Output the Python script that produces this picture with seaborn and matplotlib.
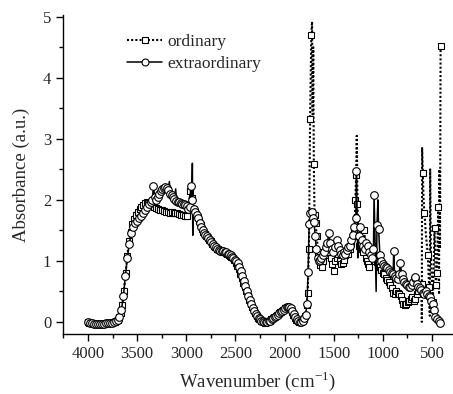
import matplotlib
matplotlib.use("Agg")
import matplotlib.pyplot as plt
import seaborn as sns
from matplotlib.ticker import MultipleLocator
from matplotlib.lines import Line2D

# ordinary spectrum (squares, dotted)
wn_o = [4000, 3985, 3970, 3955, 3940, 3925, 3910, 3895, 3880, 3865, 3850, 3835, 3820, 3805, 3790,
        3775, 3760, 3745, 3730, 3715, 3700, 3685, 3668, 3652, 3635, 3618, 3600, 3582, 3565, 3548,
        3530, 3512, 3494, 3476, 3458, 3440, 3422, 3404, 3386, 3368, 3350, 3330, 3310, 3290, 3270,
        3250, 3230, 3210, 3190, 3170, 3150, 3130, 3110, 3090, 3070, 3050, 3030, 3010, 2990, 2975,
        2960, 2945, 2930, 2915, 2900, 2885, 2870, 2855, 2840, 2825, 2810, 2795, 2780, 2765, 2750,
        2735, 2720, 2705, 2690, 2675, 2660, 2645, 2630, 2615, 2600, 2585, 2570, 2555, 2540, 2525,
        2510, 2495, 2480, 2465, 2450, 2435, 2420, 2405, 2390, 2375, 2360, 2345, 2330, 2315, 2300,
        2285, 2270, 2255, 2240, 2225, 2210, 2195, 2180, 2165, 2150, 2135, 2120, 2105, 2090, 2075,
        2060, 2045, 2030, 2015, 2000, 1985, 1970, 1955, 1940, 1925, 1910, 1895, 1880, 1865, 1850,
        1835, 1820, 1805, 1790, 1775, 1765, 1752, 1740, 1728, 1720, 1714, 1708, 1702, 1695, 1685,
        1672, 1660, 1648, 1635, 1620, 1605, 1590, 1575, 1560, 1545, 1530, 1515, 1500, 1485, 1470,
        1455, 1440, 1425, 1410, 1395, 1380, 1365, 1350, 1335, 1320, 1305, 1290, 1280, 1272, 1265,
        1258, 1250, 1240, 1228, 1215, 1200, 1190, 1180, 1170, 1160, 1150, 1140, 1125, 1112, 1100,
        1088, 1075, 1060, 1045, 1030, 1015, 1000, 985, 970, 955, 940, 925, 910, 895, 880,
        865, 850, 835, 820, 805, 790, 775, 760, 745, 730, 715, 700, 685, 670, 655,
        640, 625, 612, 605, 603, 600, 593, 585, 576, 560, 542, 529, 522, 518, 510,
        491, 474, 460, 450, 440, 434, 428, 424, 418, 412]
abs_o = [0.00, -0.01, -0.02, -0.02, -0.03, -0.03, -0.03, -0.03, -0.03, -0.03, -0.03, -0.03, -0.02, -0.02, -0.02,
         -0.01, -0.01, 0.00, 0.00, 0.01, 0.03, 0.08, 0.15, 0.27, 0.50, 0.80, 1.08, 1.32, 1.48, 1.60,
         1.68, 1.75, 1.80, 1.85, 1.88, 1.92, 1.95, 1.96, 1.95, 1.92, 1.90, 1.88, 1.86, 1.85, 1.84,
         1.83, 1.82, 1.80, 1.80, 1.79, 1.80, 1.79, 1.78, 1.78, 1.77, 1.76, 1.75, 1.74, 1.73, 1.85,
         2.15, 2.03, 1.85, 1.80, 1.75, 1.72, 1.65, 1.58, 1.52, 1.47, 1.44, 1.41, 1.38, 1.35, 1.32,
         1.28, 1.25, 1.22, 1.20, 1.19, 1.18, 1.17, 1.15, 1.14, 1.13, 1.12, 1.10, 1.08, 1.06, 1.04,
         1.01, 0.97, 0.92, 0.86, 0.78, 0.72, 0.63, 0.57, 0.50, 0.43, 0.36, 0.30, 0.24, 0.19, 0.14,
         0.10, 0.07, 0.04, 0.02, 0.01, 0.00, -0.01, 0.00, 0.01, 0.02, 0.04, 0.06, 0.08, 0.10, 0.12,
         0.14, 0.16, 0.18, 0.20, 0.22, 0.23, 0.24, 0.23, 0.21, 0.17, 0.12, 0.07, 0.03, 0.01, 0.00,
         0.00, 0.02, 0.05, 0.10, 0.28, 0.48, 1.20, 3.33, 4.70, 4.92, 3.40, 4.50, 2.58, 1.75, 1.62,
         1.40, 1.15, 1.02, 0.93, 0.90, 1.00, 1.13, 1.25, 1.18, 1.10, 1.05, 0.95, 0.83, 1.00, 1.05,
         1.12, 1.00, 0.95, 0.97, 1.02, 1.10, 1.15, 1.12, 1.20, 1.30, 1.40, 1.48, 2.00, 2.40, 3.05,
         1.94, 1.50, 1.25, 1.30, 1.20, 1.15, 1.50, 1.30, 1.05, 1.00, 0.95, 0.90, 1.10, 1.20, 1.12,
         1.05, 1.00, 0.98, 0.95, 0.90, 0.85, 0.80, 0.78, 0.72, 0.68, 0.65, 0.60, 0.55, 0.48, 0.45,
         0.50, 0.48, 0.46, 0.42, 0.36, 0.30, 0.28, 0.30, 0.33, 0.35, 0.38, 0.40, 0.35, 0.38, 0.45,
         0.50, 0.55, 0.60, 0.62, 0.00, 2.85, 2.44, 2.00, 1.78, 1.40, 1.10, 0.57, 0.10, 2.50, 1.00,
         0.33, 1.54, 0.60, 0.80, 1.60, 1.89, 0.45, 2.50, 1.20, 4.52]
# points on the spikes drawn without a marker
spike_o = [1720, 1714, 1708, 1265, 603, 600, 585, 560, 522, 518, 510, 440, 428, 424, 418]

# extraordinary spectrum (circles, solid)
wn_e = [4000, 3980, 3960, 3940, 3920, 3900, 3880, 3860, 3840, 3820, 3800, 3780, 3760, 3740, 3720,
        3700, 3680, 3660, 3640, 3620, 3600, 3580, 3560, 3540, 3520, 3500, 3480, 3460, 3440, 3420,
        3400, 3380, 3360, 3345, 3335, 3320, 3305, 3290, 3275, 3260, 3245, 3230, 3215, 3200, 3185,
        3172, 3165, 3150, 3135, 3120, 3108, 3100, 3085, 3070, 3055, 3040, 3025, 3010, 2995, 2980,
        2965, 2955, 2945, 2938, 2934, 2925, 2910, 2895, 2880, 2865, 2850, 2835, 2820, 2805, 2790,
        2775, 2760, 2745, 2730, 2715, 2700, 2685, 2670, 2655, 2640, 2625, 2610, 2595, 2580, 2565,
        2550, 2535, 2520, 2505, 2490, 2475, 2460, 2445, 2430, 2415, 2400, 2385, 2370, 2355, 2340,
        2325, 2310, 2295, 2280, 2265, 2250, 2235, 2220, 2205, 2190, 2175, 2160, 2145, 2130, 2115,
        2100, 2085, 2070, 2055, 2040, 2025, 2010, 1995, 1980, 1965, 1950, 1935, 1920, 1905, 1890,
        1875, 1860, 1845, 1830, 1815, 1800, 1785, 1772, 1760, 1750, 1740, 1730, 1720, 1710, 1700,
        1688, 1676, 1664, 1652, 1640, 1625, 1610, 1595, 1580, 1565, 1550, 1535, 1520, 1505, 1490,
        1470, 1455, 1440, 1425, 1410, 1395, 1380, 1365, 1350, 1335, 1320, 1305, 1290, 1275, 1268,
        1255, 1245, 1231, 1215, 1200, 1185, 1170, 1155, 1140, 1125, 1110, 1095, 1089, 1068, 1059,
        1050, 1043, 1030, 1015, 1000, 985, 970, 955, 940, 925, 910, 895, 889, 880, 865,
        850, 835, 821, 808, 795, 780, 765, 750, 735, 720, 705, 690, 675, 668, 655,
        640, 625, 610, 595, 580, 565, 550, 535, 520, 505, 490, 478, 467, 450, 430, 415]
abs_e = [0.00, -0.01, -0.02, -0.03, -0.03, -0.03, -0.03, -0.03, -0.03, -0.02, -0.02, -0.01, -0.01, 0.00, 0.01,
         0.03, 0.08, 0.20, 0.42, 0.75, 1.05, 1.28, 1.45, 1.55, 1.62, 1.66, 1.70, 1.74, 1.78, 1.83,
         1.88, 1.93, 1.97, 2.00, 2.22, 2.05, 2.00, 2.05, 2.10, 2.14, 2.18, 2.20, 2.21, 2.20, 2.16,
         2.30, 2.10, 2.08, 2.05, 2.02, 2.18, 1.98, 1.96, 1.97, 1.95, 1.93, 1.94, 1.92, 1.90, 1.85,
         1.88, 2.22, 2.00, 2.60, 1.42, 1.85, 1.80, 1.76, 1.70, 1.62, 1.56, 1.50, 1.46, 1.43, 1.40,
         1.37, 1.34, 1.31, 1.28, 1.25, 1.22, 1.20, 1.18, 1.17, 1.16, 1.16, 1.15, 1.14, 1.12, 1.11,
         1.09, 1.07, 1.05, 1.02, 1.00, 0.96, 0.90, 0.83, 0.75, 0.67, 0.59, 0.51, 0.43, 0.36, 0.29,
         0.23, 0.18, 0.13, 0.09, 0.06, 0.04, 0.02, 0.01, 0.00, 0.00, 0.00, 0.01, 0.02, 0.04, 0.06,
         0.08, 0.10, 0.12, 0.14, 0.16, 0.18, 0.20, 0.22, 0.24, 0.25, 0.24, 0.22, 0.18, 0.13, 0.08,
         0.04, 0.02, 0.00, 0.00, 0.02, 0.06, 0.12, 0.30, 0.82, 1.60, 1.78, 1.85, 1.80, 1.70, 1.63,
         1.40, 1.20, 1.05, 1.00, 1.02, 1.05, 1.10, 1.15, 1.22, 1.30, 1.45, 1.30, 1.20, 1.15, 1.22,
         1.35, 1.25, 1.18, 1.12, 1.10, 1.15, 1.12, 1.18, 1.22, 1.25, 1.35, 1.42, 1.55, 1.70, 2.48,
         1.05, 1.40, 1.56, 1.35, 1.25, 1.20, 1.30, 1.25, 1.15, 1.10, 1.05, 1.20, 2.08, 0.50, 1.58,
         2.00, 1.53, 1.10, 1.00, 0.95, 0.92, 0.90, 0.88, 0.85, 0.82, 0.80, 0.78, 1.17, 0.75, 0.72,
         0.70, 0.78, 0.97, 0.78, 0.70, 0.65, 0.62, 0.60, 0.58, 0.57, 0.60, 0.65, 0.72, 0.73, 0.62,
         0.58, 0.55, 0.52, 0.48, 0.46, 0.50, 0.45, 0.42, 0.40, 0.35, 0.30, 0.20, 0.08, 0.05, 0.02, -0.01]
spike_e = [3172, 3108, 2938, 2934, 1730, 1255, 1068, 1050]

sns.set_style("ticks")
plt.rcParams['font.family'] = ['Liberation Serif', 'DejaVu Serif']
plt.rcParams['mathtext.fontset'] = 'custom'
plt.rcParams['mathtext.rm'] = 'Liberation Serif'

fig = plt.figure(figsize=(4.53, 3.94), dpi=100)
ax = fig.add_axes([0.139, 0.152, 0.859, 0.81])

mark_o = [i for i, w in enumerate(wn_o) if w not in spike_o]
mark_e = [i for i, w in enumerate(wn_e) if w not in spike_e]

sns.lineplot(x=wn_o, y=abs_o, ax=ax, sort=False, estimator=None, color='black',
             linestyle=(0, (1, 1)), linewidth=1.5, marker='s', markersize=5,
             markerfacecolor='white', markeredgecolor='black', markeredgewidth=0.8,
             markevery=mark_o)
sns.lineplot(x=wn_e, y=abs_e, ax=ax, sort=False, estimator=None, color='black',
             linestyle='-', linewidth=1.1, marker='o', markersize=5.5,
             markerfacecolor='white', markeredgecolor='black', markeredgewidth=0.8,
             markevery=mark_e)

ax.set_xlim(4255, 295)
ax.set_ylim(-0.2, 5.03)
ax.xaxis.set_major_locator(MultipleLocator(500))
ax.xaxis.set_minor_locator(MultipleLocator(250))
ax.yaxis.set_major_locator(MultipleLocator(1))
ax.yaxis.set_minor_locator(MultipleLocator(0.5))
ax.tick_params(which='major', direction='out', length=5, width=1, labelsize=12, color='black')
ax.tick_params(which='minor', direction='out', length=3, width=1, color='black')
sns.despine(ax=ax)
for s in ['left', 'bottom']:
    ax.spines[s].set_linewidth(1)
    ax.spines[s].set_color('black')

ax.set_xlabel(r"Wavenumber (cm$^{\mathregular{-1}}$)", fontsize=13.5, labelpad=5)
ax.set_ylabel("Absorbance (a.u.)", fontsize=13.5, labelpad=9)

handles = [
    Line2D([], [], color='black', linestyle=(0, (1, 1)), linewidth=1.5, marker='s', markersize=5,
           markerfacecolor='white', markeredgecolor='black', markeredgewidth=0.8),
    Line2D([], [], color='black', linestyle='-', linewidth=1.1, marker='o', markersize=5,
           markerfacecolor='white', markeredgecolor='black', markeredgewidth=0.8),
]
ax.legend(handles, ['ordinary', 'extraordinary'], loc='upper left', bbox_to_anchor=(0.165, 0.94),
          frameon=False, fontsize=12.5, handlelength=2.0, handletextpad=0.3, labelspacing=0.3,
          borderpad=0, borderaxespad=0)

fig.savefig("out.png", dpi=100)
